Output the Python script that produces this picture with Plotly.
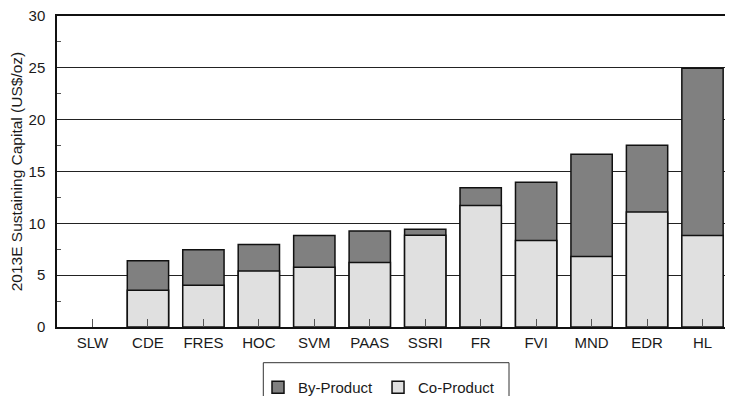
import plotly.graph_objects as go

categories = ["SLW", "CDE", "FRES", "HOC", "SVM", "PAAS", "SSRI", "FR", "FVI", "MND", "EDR", "HL"]
by_product = [None, 6.4, 7.45, 7.97, 8.82, 9.27, 9.43, 13.43, 13.97, 16.67, 17.54, 24.95]
co_product = [None, 3.55, 4.03, 5.41, 5.77, 6.21, 8.85, 11.72, 8.34, 6.79, 11.1, 8.83]

FONT = "Liberation Sans, Arial, sans-serif"

# page body has an 8px margin, so the figure is drawn at (8, 8)
OFF = 8
W, H = 733 - OFF, 396 - OFF
ML, MR, MT, MB = 57 - OFF, 0, 16 - OFF, 69
PW, PH = W - ML - MR, H - MT - MB


def px_to_paper_x(px):
    return (px - OFF - ML) / PW


def px_to_paper_y(py):
    return (H - MB - (py - OFF)) / PH


fig = go.Figure()
fig.add_trace(go.Bar(
    x=categories, y=by_product, name="By-Product", width=0.745,
    marker=dict(color="#808080", line=dict(color="#111111", width=1.5)),
))
fig.add_trace(go.Bar(
    x=categories, y=co_product, name="Co-Product", width=0.745,
    marker=dict(color="#e0e0e0", line=dict(color="#111111", width=1.5)),
))

fig.update_layout(
    width=W, height=H,
    margin=dict(l=ML, r=MR, t=MT, b=MB, autoexpand=False),
    barmode="overlay",
    plot_bgcolor="white", paper_bgcolor="white",
    font=dict(family=FONT, size=15, color="#1a1a1a"),
    showlegend=True,
    legend=dict(
        orientation="h", x=px_to_paper_x(258), xanchor="left",
        yref="container", y=1 - (371 - OFF) / H, yanchor="top",
        font=dict(size=15), bgcolor="rgba(0,0,0,0)", borderwidth=0,
        itemwidth=30, traceorder="normal",
    ),
    shapes=[dict(
        type="rect", xref="paper", yref="paper",
        x0=px_to_paper_x(263.3), x1=px_to_paper_x(509),
        y0=px_to_paper_y(410), y1=px_to_paper_y(362.7),
        line=dict(color="#333333", width=1), fillcolor="rgba(0,0,0,0)",
    )],
)

fig.update_xaxes(
    range=[-0.64, 11.55], showline=True, mirror=True, linecolor="#111111", linewidth=1.5,
    ticks="inside", ticklen=8, tickcolor="#555555", tickwidth=1,
    showgrid=False, tickfont=dict(size=15), ticklabelstandoff=1,
)
fig.update_yaxes(
    range=[0, 30], dtick=5, showline=True, linecolor="#111111", linewidth=1.5,
    showgrid=True, gridcolor="#222222", gridwidth=1,
    ticks="", ticklabelstandoff=7, tickfont=dict(size=15), ticklabeloverflow="allow",
    minor=dict(dtick=2.5, ticks="inside", ticklen=4, tickcolor="#555555", showgrid=False),
    zeroline=False,
    title=dict(text="2013E Sustaining Capital (US$/oz)", font=dict(size=15.5), standoff=5),
)

fig.write_html("out.html")
